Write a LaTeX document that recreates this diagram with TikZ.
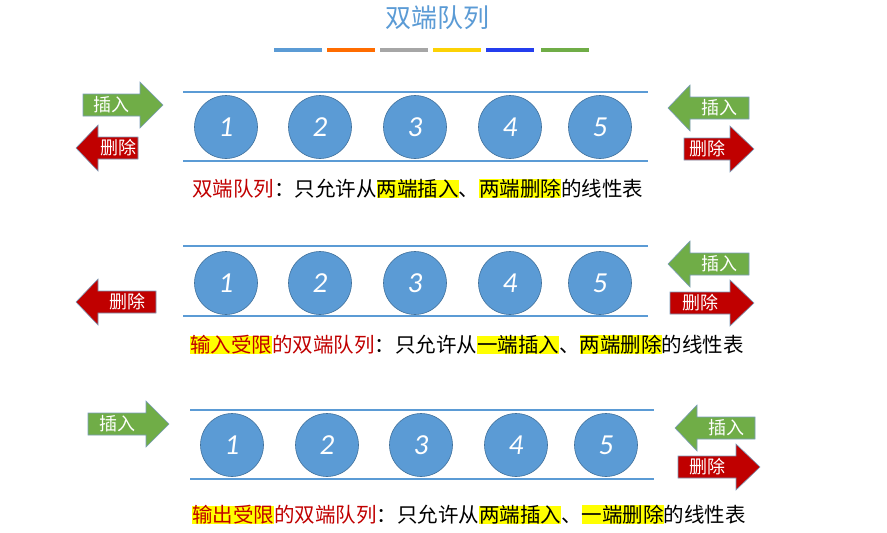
\documentclass[tikz,border=0pt]{standalone}
\usepackage{fontspec}
\setmainfont{Noto Sans CJK SC}
\newfontfamily\numfont{Carlito}
\usetikzlibrary{calc}
\definecolor{qblue}{HTML}{5B9BD5}
\definecolor{qgreen}{HTML}{70AD47}
\definecolor{qred}{HTML}{C00000}
\definecolor{qdark}{HTML}{41719C}
\definecolor{hl}{HTML}{FFFF00}
\newcommand\hlt[1]{{\setlength{\fboxsep}{0pt}\colorbox{hl}{#1}}}
% right arrow: color, xs, xb, xt, yc, label
\newcommand\rarrowx[6]{%
 \fill[#1,draw=qdark!70,line width=0.6pt] (#2,#5-11)--(#3,#5-11)--(#3,#5-23)--(#4,#5)--(#3,#5+23)--(#3,#5+11)--(#2,#5+11)--cycle;
 \node[lab] at ({(#2+#3)/2},#5) {#6};}
% left arrow: color, xt, xb, xe, yc, label
\newcommand\larrowx[6]{%
 \fill[#1,draw=qdark!70,line width=0.6pt] (#4,#5-11)--(#3,#5-11)--(#3,#5-23)--(#2,#5)--(#3,#5+23)--(#3,#5+11)--(#4,#5+11)--cycle;
 \node[lab] at ({(#3+#4)/2},#5) {#6};}
\begin{document}
\begin{tikzpicture}[x=1pt,y=-1pt,
 lab/.style={text=white,font=\fontsize{18}{18}\selectfont,inner sep=0pt},
 ball/.style={circle,fill=qblue,draw=qdark,line width=0.6pt,minimum size=63pt,inner sep=0pt,text=white,font=\numfont\itshape\fontsize{29}{29}\selectfont},
 rail/.style={qblue,line width=2.5pt},
 captext/.style={anchor=west,inner sep=0pt,font=\fontsize{20.5}{20.5}\selectfont},
 bar/.style={line width=4pt}]
\useasboundingbox (0,0) rectangle (887,533);
\node[text=qblue,font=\fontsize{26}{26}\selectfont] (title) at (437,18) {双端队列};
\foreach \xa/\c in {274/qblue,327/orange!85!red,380/gray!70,433/yellow!70!orange,486/blue!60!qblue,541/qgreen}
  \draw[bar,\c] (\xa,50) -- ++(48,0);
% row 1
\draw[rail] (183,92) -- (648,92); \draw[rail] (183,161) -- (648,161);
\foreach \x/\n in {226/1,320/2,415/3,510/4,600/5} \node[ball] (a\n) at (\x,127) {\n};
\rarrowx{qgreen}{83}{140}{163}{105}{插入}
\larrowx{qred}{76}{98}{138}{148}{删除}
\larrowx{qgreen}{668}{690}{749}{108}{插入}
\rarrowx{qred}{684}{730}{754}{149}{删除}
\node[captext] (c1) at (192,189) {\textcolor{qred}{双端队列}：只允许从\hlt{两端插入}、\hlt{两端删除}的线性表};
% row 2
\draw[rail] (183,246) -- (648,246); \draw[rail] (183,316) -- (648,316);
\foreach \x/\n in {226/1,320/2,415/3,510/4,600/5} \node[ball] (b\n) at (\x,283) {\n};
\larrowx{qred}{76}{98}{156}{302}{删除}
\larrowx{qgreen}{668}{690}{749}{264}{插入}
\rarrowx{qred}{670}{730}{754}{303}{删除}
\node[captext] (c2) at (190,345) {\hlt{\textcolor{qred}{输入受限}}\textcolor{qred}{的双端队列}：只允许从\hlt{一端插入}、\hlt{两端删除}的线性表};
% row 3
\draw[rail] (190,410) -- (654,410); \draw[rail] (190,479) -- (654,479);
\foreach \x/\n in {232/1,327/2,421/3,516/4,606/5} \node[ball] (d\n) at (\x,445) {\n};
\rarrowx{qgreen}{88}{146}{169}{424}{插入}
\larrowx{qgreen}{675}{697}{755}{428}{插入}
\rarrowx{qred}{678}{736}{760}{467}{删除}
\node[captext] (c3) at (192,515) {\hlt{\textcolor{qred}{输出受限}}\textcolor{qred}{的双端队列}：只允许从\hlt{两端插入}、\hlt{一端删除}的线性表};
\end{tikzpicture}
\end{document}
